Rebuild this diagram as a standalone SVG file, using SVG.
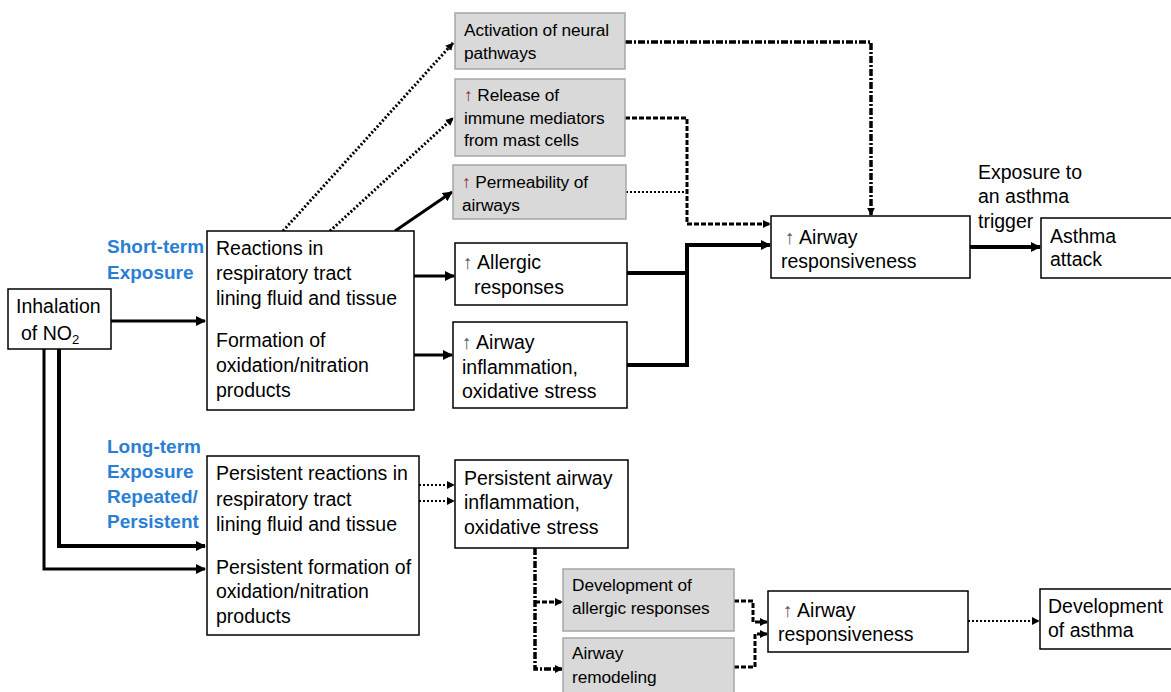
<svg xmlns="http://www.w3.org/2000/svg" width="1171" height="692" viewBox="0 0 1171 692">
<defs>
<marker id="ah" viewBox="0 0 10 10" refX="9" refY="5" markerWidth="10" markerHeight="10" markerUnits="userSpaceOnUse" orient="auto">
<path d="M0,0 L10,5 L0,10 z" fill="#000"/>
</marker>
<marker id="ahs" viewBox="0 0 10 10" refX="9" refY="5" markerWidth="8" markerHeight="8" markerUnits="userSpaceOnUse" orient="auto">
<path d="M0,0 L10,5 L0,10 z" fill="#000"/>
</marker>
</defs>
<style>
.box{fill:#fff;stroke:#000;stroke-width:1.5}
.gbox{fill:#d9d9d9;stroke:#a6a6a6;stroke-width:1.5}
text{font-family:"Liberation Sans",Arial,sans-serif;fill:#000}
.t{font-size:19.5px}
.g{font-size:17.3px;letter-spacing:-0.1px}
.blue{font-size:19px;font-weight:bold;fill:#2a7fd4}
.up{fill:#555}
.upr{fill:#8b2a2a}
.c{fill:none;stroke:#000}
.solid{stroke-width:3}
.thick{stroke-width:4}
.dot{stroke-width:3;stroke-dasharray:2 2}
.fdot{stroke-width:2;stroke-dasharray:2 2}
.dashdot{stroke-width:3.5;stroke-dasharray:7 2 2 2}
.dash{stroke-width:3;stroke-dasharray:5 2}
</style>
<rect width="1171" height="692" fill="#fff"/>

<g id="labels">
<text class="blue" x="107" y="253">Short-term</text>
<text class="blue" x="107" y="279">Exposure</text>
<text class="blue" x="107" y="453">Long-term</text>
<text class="blue" x="107" y="478">Exposure</text>
<text class="blue" x="107" y="503">Repeated/</text>
<text class="blue" x="107" y="528">Persistent</text>
<text class="t" x="978" y="179">Exposure to</text>
<text class="t" x="978" y="203">an asthma</text>
<text class="t" x="978" y="228">trigger</text>
</g>

<g id="connectors">
<path class="c solid" d="M111,321 H205" marker-end="url(#ah)"/>
<path class="c thick" d="M59,349 V546 H205" marker-end="url(#ah)"/>
<path class="c solid" d="M44,349 V569 H205" marker-end="url(#ah)"/>
<path class="c dot" d="M283,231 L453,43" marker-end="url(#ahs)"/>
<path class="c dot" d="M330,231 L453,118" marker-end="url(#ahs)"/>
<path class="c solid" d="M395,231 L452,192" marker-end="url(#ah)"/>
<path class="c solid" d="M414,276 H454" marker-end="url(#ah)"/>
<path class="c solid" d="M414,355 H452" marker-end="url(#ah)"/>
<path class="c thick" d="M627,273 H687"/>
<path class="c thick" d="M627,365 H687 V245 H770" marker-end="url(#ah)"/>
<path class="c dashdot" d="M625,42 H871 V215" marker-end="url(#ahs)"/>
<path class="c dash" d="M625,118 H687 V224 H770" marker-end="url(#ahs)"/>
<path class="c fdot" d="M626,192 H687"/>
<path class="c thick" d="M970,247 H1040" marker-end="url(#ah)"/>
<path class="c fdot" d="M419,485 H454" marker-end="url(#ahs)"/>
<path class="c fdot" d="M419,501 H454" marker-end="url(#ahs)"/>
<path class="c dashdot" d="M535,548 V669 H562" marker-end="url(#ahs)"/>
<path class="c dash" d="M535,602 H562" marker-end="url(#ahs)"/>
<path class="c dash" d="M734,601 H753 V622 H767" marker-end="url(#ahs)"/>
<path class="c dash" d="M734,667 H755 V634 H767" marker-end="url(#ahs)"/>
<path class="c fdot" d="M968,621 H1039" marker-end="url(#ahs)"/>
</g>

<g id="inhalation">
<rect class="box" x="8" y="289" width="103" height="60"/>
<text class="t" x="16" y="313">Inhalation</text>
<text class="t" x="21" y="340">of NO<tspan font-size="13" dy="4">2</tspan></text>
</g>

<g id="short-term">
<rect class="box" x="207" y="231" width="207" height="179"/>
<text class="t" x="216" y="255">Reactions in</text>
<text class="t" x="216" y="280">respiratory tract</text>
<text class="t" x="216" y="305">lining fluid and tissue</text>
<text class="t" x="216" y="347">Formation of</text>
<text class="t" x="216" y="372">oxidation/nitration</text>
<text class="t" x="216" y="397">products</text>
</g>

<g id="neural">
<rect class="gbox" x="455" y="13" width="170" height="56"/>
<text class="g" x="464" y="36">Activation of neural</text>
<text class="g" x="464" y="59">pathways</text>
</g>

<g id="mast">
<rect class="gbox" x="455" y="79" width="170" height="77"/>
<text class="g" x="464" y="101"><tspan class="upr">↑</tspan> Release of</text>
<text class="g" x="464" y="124">immune mediators</text>
<text class="g" x="464" y="146">from mast cells</text>
</g>

<g id="permeability">
<rect class="gbox" x="453" y="165" width="173" height="54"/>
<text class="g" x="462" y="188"><tspan class="upr">↑</tspan> Permeability of</text>
<text class="g" x="462" y="211">airways</text>
</g>

<g id="allergic">
<rect class="box" x="455" y="243" width="172" height="62"/>
<text class="t" x="463" y="269"><tspan class="up">↑</tspan> Allergic</text>
<text class="t" x="474" y="294">responses</text>
</g>

<g id="inflammation">
<rect class="box" x="453" y="322" width="174" height="86"/>
<text class="t" x="462" y="349"><tspan class="up">↑</tspan> Airway</text>
<text class="t" x="462" y="374">inflammation,</text>
<text class="t" x="462" y="398">oxidative stress</text>
</g>

<g id="responsiveness-top">
<rect class="box" x="771" y="216" width="199" height="62"/>
<text class="t" x="785" y="244"><tspan class="up">↑</tspan> Airway</text>
<text class="t" x="781" y="268">responsiveness</text>
</g>

<g id="attack">
<rect class="box" x="1041" y="218" width="135" height="60"/>
<text class="t" x="1050" y="243">Asthma</text>
<text class="t" x="1050" y="266">attack</text>
</g>

<g id="long-term">
<rect class="box" x="207" y="456" width="212" height="179"/>
<text class="t" x="216" y="480">Persistent reactions in</text>
<text class="t" x="216" y="506">respiratory tract</text>
<text class="t" x="216" y="531">lining fluid and tissue</text>
<text class="t" x="216" y="574">Persistent formation of</text>
<text class="t" x="216" y="598">oxidation/nitration</text>
<text class="t" x="216" y="623">products</text>
</g>

<g id="persistent-inflammation">
<rect class="box" x="455" y="460" width="173" height="88"/>
<text class="t" x="464" y="485">Persistent airway</text>
<text class="t" x="464" y="509">inflammation,</text>
<text class="t" x="464" y="534">oxidative stress</text>
</g>

<g id="dev-allergic">
<rect class="gbox" x="563" y="569" width="171" height="62"/>
<text class="g" x="572" y="591">Development of</text>
<text class="g" x="572" y="614">allergic responses</text>
</g>

<g id="remodeling">
<rect class="gbox" x="563" y="638" width="171" height="60"/>
<text class="g" x="572" y="659">Airway</text>
<text class="g" x="572" y="683">remodeling</text>
</g>

<g id="responsiveness-bottom">
<rect class="box" x="768" y="591" width="200" height="61"/>
<text class="t" x="783" y="617"><tspan class="up">↑</tspan> Airway</text>
<text class="t" x="778" y="641">responsiveness</text>
</g>

<g id="dev-asthma">
<rect class="box" x="1040" y="589" width="136" height="60"/>
<text class="t" x="1048" y="613">Development</text>
<text class="t" x="1048" y="637">of asthma</text>
</g>
</svg>
